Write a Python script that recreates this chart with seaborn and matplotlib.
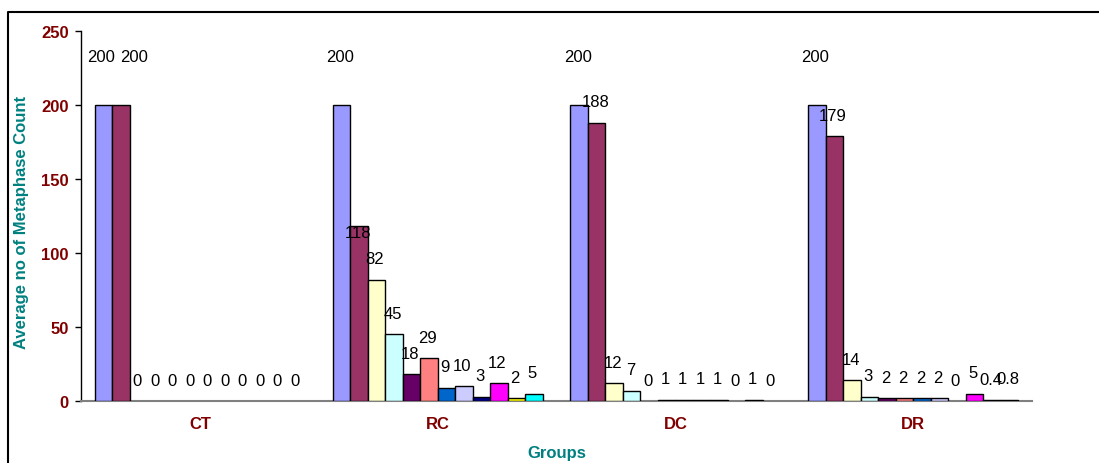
import matplotlib
matplotlib.use("Agg")
import matplotlib.pyplot as plt
from matplotlib.lines import Line2D
import seaborn as sns
import pandas as pd

# ---------------- data ----------------
groups = ["CT", "RC", "DC", "DR"]
series = ["Series1", "Series2", "Series3", "Series4", "Series5", "Series6",
          "Series7", "Series8", "Series9", "Series10", "Series11", "Series12"]
ct_values = [200, 200, 0, 0, 0, 0, 0, 0, 0, 0, 0, 0]
rc_values = [200, 118, 82, 45, 18, 29, 9, 10, 3, 12, 2, 5]
dc_values = [200, 188, 12, 7, 0, 1, 1, 1, 1, 0, 1, 0]
dr_values = [200, 179, 14, 3, 2, 2, 2, 2, 0, 5, 0.4, 0.8]
y_ticks = [0, 50, 100, 150, 200, 250]

# ---------------- styling ----------------
colors = ["#9999FF", "#993366", "#FFFFCC", "#CCFFFF", "#660066", "#FF8080",
          "#0066CC", "#CCCCFF", "#000080", "#FF00FF", "#FFFF00", "#00FFFF"]
dark_red = "#800000"
teal = "#008080"

rows = []
for g, vals in zip(groups, [ct_values, rc_values, dc_values, dr_values]):
    for s, v in zip(series, vals):
        rows.append({"group": g, "series": s, "value": v})
df = pd.DataFrame(rows)

sns.set_style("white")
plt.rcParams["font.family"] = ["Liberation Sans", "DejaVu Sans"]

fig = plt.figure(figsize=(10.99, 4.64), dpi=100)
ax = fig.add_axes([81 / 1099, 1 - 402 / 464, (1032 - 81) / 1099, 370 / 464])

sns.barplot(data=df, x="group", y="value", hue="series", order=groups,
            hue_order=series, palette=colors, width=0.883, gap=0,
            edgecolor="black", linewidth=1.0, saturation=1, legend=False,
            errorbar=None, ax=ax)

# bars above the axis line; hide edges of zero-height bars
for p in ax.patches:
    p.set_zorder(3)
    if p.get_height() == 0:
        p.set_linewidth(0)

# data labels (offsets in points)
default_off = 15.0
special_off = {("RC", 1): (-1, -4.3), ("CT", 0): (-2, 35.0), ("CT", 1): (9.4, 35.0)}
for si, cont in enumerate(ax.containers):
    for gi, bar in enumerate(cont):
        v = df[(df.group == groups[gi]) & (df.series == series[si])]["value"].iloc[0]
        off = special_off.get((groups[gi], si), (-1, 35.0 if v >= 200 else default_off))
        ax.annotate(f"{v:g}", xy=(bar.get_x() + bar.get_width() / 2, bar.get_height()),
                    xytext=off, textcoords="offset points",
                    ha="center", va="center", fontsize=12, color="black", zorder=5)

ax.set_ylim(0, 250)
ax.set_xlim(-0.5, 3.5)
ax.set_yticks(y_ticks)
ax.set_yticklabels([str(t) for t in y_ticks], fontsize=12, fontweight="bold", color=dark_red)
ax.set_xticks(range(len(groups)))
ax.set_xticklabels(groups, fontsize=12, fontweight="bold", color=dark_red)
ax.set_xticks([-0.5, 0.5, 1.5, 2.5, 3.5], minor=True)
ax.tick_params(axis="x", which="major", length=0, pad=11)
ax.tick_params(axis="x", which="minor", length=4, direction="out", color="#808080", width=1)
ax.tick_params(axis="y", which="major", length=4, direction="out", color="black", width=1, pad=5, left=True)

for side in ["top", "right"]:
    ax.spines[side].set_visible(False)
ax.spines["left"].set_color("black")
ax.spines["left"].set_linewidth(1)
ax.spines["bottom"].set_color("#808080")
ax.spines["bottom"].set_linewidth(1.5)

ax.set_ylabel("Average no of Metaphase Count", fontsize=12, fontweight="bold", color=teal)
ax.yaxis.set_label_coords(-0.0626, 0.484)
ax.yaxis.label.set_va("center")
ax.set_xlabel("Groups", fontsize=12, fontweight="bold", color=teal)
ax.xaxis.set_label_coords(0.5, -0.138)
ax.xaxis.label.set_va("center")

# chart-area border (extends beyond the right and bottom edges)
bx = 8 / 1099
by = 1 - 12.5 / 464
fig.add_artist(Line2D([bx, bx, 1.01], [-0.01, by, by], transform=fig.transFigure,
                      color="black", linewidth=1.5))

fig.savefig("out.png", dpi=100)
